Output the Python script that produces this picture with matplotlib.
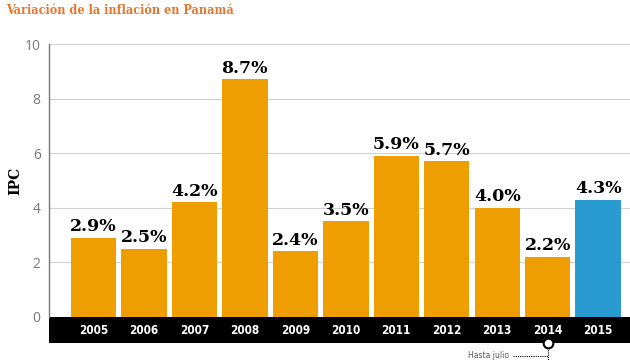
import matplotlib
matplotlib.use("Agg")
import matplotlib.pyplot as plt
from matplotlib.patches import Rectangle
from matplotlib.lines import Line2D
import matplotlib.transforms as mtransforms

years = ["2005", "2006", "2007", "2008", "2009", "2010", "2011", "2012", "2013", "2014", "2015"]
values = [2.9, 2.5, 4.2, 8.7, 2.4, 3.5, 5.9, 5.7, 4.0, 2.2, 4.3]
labels = ["2.9%", "2.5%", "4.2%", "8.7%", "2.4%", "3.5%", "5.9%", "5.7%", "4.0%", "2.2%", "4.3%"]
yticks = [0, 2, 4, 6, 8, 10]

orange = "#EE9E00"
blue = "#2A9BD0"
colors = [orange] * 10 + [blue]

fig = plt.figure(figsize=(6.3, 3.6), dpi=100)
ax = fig.add_axes([49 / 630, 43 / 360, 1 - 49 / 630, 273 / 360])

x = list(range(len(years)))
bars = ax.bar(x, values, width=0.9, color=colors, zorder=3)

ax.set_xlim(-0.88, 10.63)
ax.set_ylim(0, 10)
ax.set_yticks(yticks)
ax.set_yticklabels([str(t) for t in yticks], color="#777777", fontsize=10, family="Open Sans")
ax.tick_params(axis="y", length=0, pad=6)
ax.grid(axis="y", color="#d0d0d0", linewidth=0.8, zorder=0)

for s in ["top", "right", "bottom"]:
    ax.spines[s].set_visible(False)
ax.spines["left"].set_color("#777777")
ax.spines["left"].set_linewidth(1)

ax.set_xticks(x)
ax.set_xticklabels(years, color="white", fontsize=8.5, fontweight="bold", fontstretch="condensed")
ax.tick_params(axis="x", length=0, pad=5)

# black band under axis
band = Rectangle((0, -26 / 273), 1, 26 / 273, transform=ax.transAxes,
                 facecolor="black", edgecolor="none", clip_on=False, zorder=1)
ax.add_patch(band)
for lbl in ax.get_xticklabels():
    lbl.set_zorder(5)

for xi, v, lab in zip(x, values, labels):
    ax.annotate(lab, (xi, v), xytext=(0, 2), textcoords="offset points",
                ha="center", va="bottom", fontsize=12.5, fontweight="bold",
                family="DejaVu Serif", color="black")

ax.set_ylabel("IPC", family="DejaVu Serif", fontweight="bold", fontsize=10, labelpad=2)

# annotation "Hasta julio"
trans = mtransforms.blended_transform_factory(ax.transData, fig.transFigure)
xi = 9
yb = 1 - 343 / 360
yl = 1 - 356 / 360
fig.add_artist(Line2D([xi, xi], [yb, 0], transform=trans, color="black",
                      linestyle=(0, (1, 1)), linewidth=0.8))
x_left = (513 - 49) / (630 - 49) * (10.63 + 0.88) - 0.88
fig.add_artist(Line2D([x_left, xi], [yl, yl], transform=trans, color="black",
                      linestyle=(0, (1, 1)), linewidth=0.8))
fig.add_artist(Line2D([xi], [yb], transform=trans, marker="o", markersize=7,
                      markerfacecolor="white", markeredgecolor="black",
                      markeredgewidth=1.5, linestyle="none"))
fig.text(509 / 630, yl, "Hasta julio", ha="right", va="center", fontsize=5.5, color="#555555")

fig.text(6 / 630, 1 - 10 / 360, "Variación de la inflación en Panamá", ha="left", va="center",
         fontsize=9, fontweight="heavy", family="DejaVu Serif", fontstretch="condensed",
         color="#E8752A")

fig.savefig("out.png", dpi=100)
